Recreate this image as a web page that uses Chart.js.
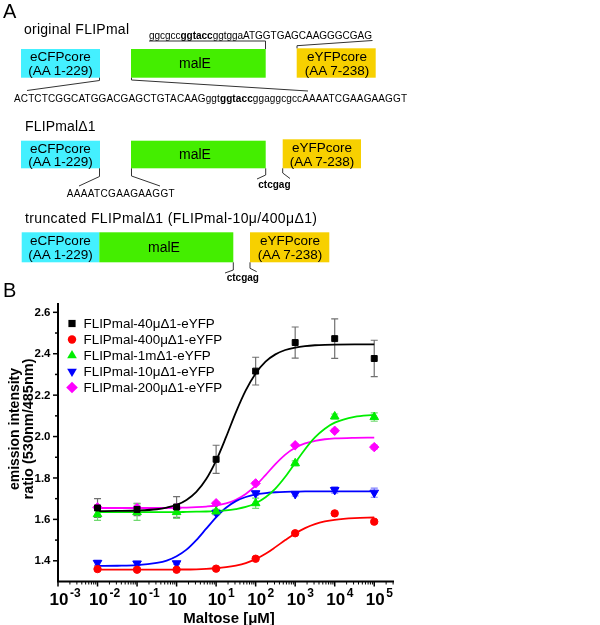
<!DOCTYPE html>
<html><head><meta charset="utf-8">
<script src="https://cdn.jsdelivr.net/npm/chart.js@4.4.0/dist/chart.umd.min.js"></script>
<style>
html,body{margin:0;padding:0;background:#fff;}
#wrap{position:relative;width:600px;height:625px;overflow:hidden;font-family:"Liberation Sans",Arial,sans-serif;}
#chart{position:absolute;left:0;top:280px;}
#schema{position:absolute;left:0;top:0;}
</style></head><body>
<div id="wrap">
<canvas id="chart" width="600" height="345"></canvas>
<svg id="schema" width="600" height="300" xmlns="http://www.w3.org/2000/svg">
<g font-family="Liberation Sans, Arial, sans-serif" fill="#000">
<text x="3" y="18" font-size="20">A</text>
<text x="24" y="34" font-size="14" textLength="105">original FLIPmal</text>
<text x="149" y="38.5" font-size="10" textLength="223">ggcgcc<tspan font-weight="bold">ggtacc</tspan>ggtggaATGGTGAGCAAGGGCGAG</text>
<rect x="21" y="49" width="79" height="28.7" fill="#44F0FF"/>
<text font-size="13.5" text-anchor="middle"><tspan x="60.5" y="61">eCFPcore</tspan><tspan x="60.5" y="74.5">(AA 1-229)</tspan></text>
<rect x="131" y="49" width="134.7" height="28.7" fill="#44EE00"/>
<text x="195" y="67.5" font-size="14" text-anchor="middle">malE</text>
<rect x="296.7" y="48.3" width="79" height="29.4" fill="#F7D000"/>
<text font-size="13.5" text-anchor="middle"><tspan x="337" y="61">eYFPcore</tspan><tspan x="337" y="74.5">(AA 7-238)</tspan></text>
<g fill="none" stroke="#333" stroke-width="1">
<polyline points="149,41 265.5,41 265.5,49"/>
<polyline points="297,48.3 297,45.7 372.5,40.5"/>
<polyline points="99.5,77.7 99.5,80.5 27,90.5"/>
<polyline points="131.5,77.7 131.5,80 308,91"/>
</g>
<text x="14" y="102" font-size="10" textLength="393">ACTCTCGGCATGGACGAGCTGTACAAGggt<tspan font-weight="bold">ggtacc</tspan>ggaggcgccAAAATCGAAGAAGGT</text>

<text x="25" y="131" font-size="14" textLength="70.5">FLIPmalΔ1</text>
<rect x="21" y="140.7" width="79" height="27.6" fill="#44F0FF"/>
<text font-size="13.5" text-anchor="middle"><tspan x="60.5" y="152.5">eCFPcore</tspan><tspan x="60.5" y="166">(AA 1-229)</tspan></text>
<rect x="131" y="140.7" width="134.7" height="27.6" fill="#44EE00"/>
<text x="195" y="159" font-size="14" text-anchor="middle">malE</text>
<rect x="282.7" y="139.3" width="78.3" height="29" fill="#F7D000"/>
<text font-size="13.5" text-anchor="middle"><tspan x="322" y="152">eYFPcore</tspan><tspan x="322" y="165.5">(AA 7-238)</tspan></text>
<g fill="none" stroke="#333" stroke-width="1">
<polyline points="99.5,168.3 99.5,176.5 79,186"/>
<polyline points="131.5,168.3 131.5,176 160,186"/>
<polyline points="265.7,168.3 265.7,175 257,179"/>
<polyline points="282.7,168.3 282.7,173 290,178.5"/>
</g>
<text x="66.7" y="196.5" font-size="10" textLength="108">AAAATCGAAGAAGGT</text>
<text x="258.3" y="187.7" font-size="10" font-weight="bold">ctcgag</text>

<text x="25" y="223" font-size="14" textLength="292">truncated FLIPmalΔ1 (FLIPmal-10μ/400μΔ1)</text>
<rect x="21.7" y="232.3" width="77.6" height="30" fill="#44F0FF"/>
<rect x="99.3" y="232.3" width="134" height="30" fill="#44EE00"/>
<rect x="250" y="232.3" width="79.3" height="30" fill="#F7D000"/>
<text font-size="13.5" text-anchor="middle"><tspan x="60.5" y="245">eCFPcore</tspan><tspan x="60.5" y="258.5">(AA 1-229)</tspan></text>
<text x="164" y="252" font-size="14" text-anchor="middle">malE</text>
<text font-size="13.5" text-anchor="middle"><tspan x="290" y="245">eYFPcore</tspan><tspan x="290" y="258.5">(AA 7-238)</tspan></text>
<g fill="none" stroke="#333" stroke-width="1">
<polyline points="233.3,262.3 233.3,270 225,273"/>
<polyline points="250,262.3 250,268.3 256.7,271.7"/>
</g>
<text x="226.7" y="281" font-size="10" font-weight="bold">ctcgag</text>
<text x="3" y="297" font-size="20">B</text>
</g>
</svg>
</div>
<script>
// ---- data ----
const maltose = [0.01, 0.1, 1, 10, 100, 1000, 10000, 100000];
const ratio40 = [1.655, 1.648, 1.660, 1.890, 2.316, 2.454, 2.473, 2.377];
const err40   = [0.045, 0.030, 0.050, 0.068, 0.067, 0.075, 0.095, 0.088];
const ratio400 = [1.360, 1.357, 1.357, 1.362, 1.410, 1.533, 1.629, 1.589];
const err400   = [0.006, 0.006, 0.005, 0.005, 0.006, 0.006, 0.006, 0.006];
const ratio1m = [1.625, 1.635, 1.635, 1.638, 1.678, 1.871, 2.097, 2.094];
const err1m   = [0.030, 0.040, 0.030, 0.010, 0.025, 0.012, 0.012, 0.020];
const ratio10 = [1.390, 1.387, 1.388, 1.632, 1.726, 1.723, 1.742, 1.729];
const err10   = [0.012, 0.010, 0.006, 0.010, 0.010, 0.010, 0.015, 0.022];
const ratio200 = [1.658, 1.655, 1.655, 1.678, 1.774, 1.958, 2.028, 1.949];
const err200   = [0.012, 0.010, 0.008, 0.006, 0.008, 0.006, 0.008, 0.010];

// fitted curves
const fitMaltose = [0.01, 0.0316, 0.1, 0.316, 0.562, 1, 1.78, 3.16, 5.62, 10, 17.8, 31.6, 56.2, 100, 178, 316, 562, 1000, 1778, 3162, 5623, 10000, 31623, 100000];
const fit40  = [1.640,1.641,1.643,1.649,1.657,1.670,1.694,1.733,1.795,1.884,1.997,2.117,2.223,2.305,2.362,2.397,2.418,2.430,2.437,2.441,2.443,2.444,2.445,2.445];
const fit400 = [1.357,1.357,1.357,1.357,1.357,1.358,1.358,1.359,1.361,1.364,1.369,1.377,1.389,1.408,1.434,1.466,1.500,1.532,1.558,1.577,1.590,1.598,1.606,1.609];
const fit1m  = [1.635,1.635,1.635,1.635,1.635,1.635,1.636,1.637,1.638,1.640,1.643,1.650,1.660,1.678,1.707,1.749,1.806,1.873,1.939,1.996,2.038,2.067,2.095,2.105];
const fit10  = [1.375,1.376,1.379,1.390,1.401,1.422,1.454,1.500,1.555,1.610,1.656,1.688,1.708,1.721,1.727,1.731,1.733,1.734,1.735,1.735,1.735,1.735,1.735,1.735];
const fit200 = [1.655,1.655,1.655,1.655,1.655,1.656,1.657,1.659,1.662,1.667,1.677,1.695,1.723,1.763,1.814,1.867,1.913,1.946,1.967,1.979,1.987,1.991,1.994,1.995];

const seriesNames = ['FLIPmal-40μΔ1-eYFP','FLIPmal-400μΔ1-eYFP','FLIPmal-1mΔ1-eYFP','FLIPmal-10μΔ1-eYFP','FLIPmal-200μΔ1-eYFP'];

const xTickValues = [0.001, 0.01, 0.1, 1, 10, 100, 1000, 10000, 100000];
const xTickBase = ['10','10','10','10','10','10','10','10','10'];
const xTickExp = ['-3','-2','-1','','1','2','3','4','5'];
const yTickValues = [1.4, 1.6, 1.8, 2.0, 2.2, 2.4, 2.6];
const yTickLabels = ['1.4','1.6','1.8','2.0','2.2','2.4','2.6'];
const yMinorValues = [1.5, 1.7, 1.9, 2.1, 2.3, 2.5];

// ---- styling ----
const FONT = '"Liberation Sans", Arial, sans-serif';
const colors = ['#000000','#FF0000','#00EE00','#0000FF','#FF00FF'];
const errColors = ['#707070','#FF9090','#70D870','#8080FF','#E080E0'];
const styles = [
  {pointStyle:'rect', radius:4.2, rotation:0},
  {pointStyle:'circle', radius:3.7, rotation:0},
  {pointStyle:'triangle', radius:5, rotation:0},
  {pointStyle:'triangle', radius:5, rotation:180},
  {pointStyle:'rectRot', radius:4.7, rotation:0}
];
const ratios = [ratio40, ratio400, ratio1m, ratio10, ratio200];
const errs = [err40, err400, err1m, err10, err200];
const fits = [fit40, fit400, fit1m, fit10, fit200];

const datasets = [];
fits.forEach((f, s) => {
  datasets.push({
    label: seriesNames[s] + ' fit',
    data: fitMaltose.map((x, i) => ({x, y: f[i]})),
    showLine: true, borderColor: colors[s], borderWidth: 1.8,
    pointRadius: 0, cubicInterpolationMode: 'monotone', order: 2
  });
});
ratios.forEach((r, s) => {
  datasets.push({
    label: seriesNames[s],
    data: maltose.map((x, i) => ({x, y: r[i]})),
    showLine: false, backgroundColor: colors[s], borderColor: colors[s],
    pointStyle: styles[s].pointStyle, pointRadius: styles[s].radius,
    pointRotation: styles[s].rotation, pointBorderWidth: 1, order: 1
  });
});

function drawMarker(ctx, kind, x, y, r, rot) {
  ctx.beginPath();
  if (kind === 'rect') { ctx.rect(x - r, y - r, 2 * r, 2 * r); }
  else if (kind === 'circle') { ctx.arc(x, y, r, 0, Math.PI * 2); }
  else if (kind === 'triangle') {
    const d = rot ? -1 : 1;
    ctx.moveTo(x, y - d * r);
    ctx.lineTo(x + r * 0.866, y + d * r / 2);
    ctx.lineTo(x - r * 0.866, y + d * r / 2);
    ctx.closePath();
  } else if (kind === 'rectRot') {
    ctx.moveTo(x, y - r); ctx.lineTo(x + r, y); ctx.lineTo(x, y + r); ctx.lineTo(x - r, y); ctx.closePath();
  }
  ctx.fill();
}

const errorBars = {
  id: 'errorBars',
  beforeDatasetsDraw(chart) {
    const {ctx, scales: {x, y}} = chart;
    ctx.save();
    ctx.lineWidth = 1.2;
    ratios.forEach((r, s) => {
      ctx.strokeStyle = errColors[s];
      r.forEach((v, i) => {
        const e = errs[s][i];
        const px = x.getPixelForValue(maltose[i]);
        const pt = y.getPixelForValue(v + e), pb = y.getPixelForValue(v - e);
        ctx.beginPath();
        ctx.moveTo(px, pt); ctx.lineTo(px, pb);
        ctx.moveTo(px - 3.5, pt); ctx.lineTo(px + 3.5, pt);
        ctx.moveTo(px - 3.5, pb); ctx.lineTo(px + 3.5, pb);
        ctx.stroke();
      });
    });
    ctx.restore();
  }
};

const axesDecor = {
  id: 'axesDecor',
  afterDraw(chart) {
    const {ctx, scales: {x, y}, chartArea: a} = chart;
    ctx.save();
    ctx.strokeStyle = '#000'; ctx.fillStyle = '#000';
    // axis lines
    ctx.lineWidth = 2;
    ctx.beginPath();
    ctx.moveTo(a.left, a.top); ctx.lineTo(a.left, a.bottom); ctx.lineTo(a.right, a.bottom);
    ctx.stroke();
    ctx.lineWidth = 1.5;
    // titles (drawn first so tick labels stay on top)
    ctx.font = 'bold 15px ' + FONT; ctx.textAlign = 'center'; ctx.textBaseline = 'alphabetic';
    ctx.fillText('Maltose [μM]', 229, 342.5);
    ctx.save();
    ctx.translate(18.5, 149); ctx.rotate(-Math.PI / 2);
    ctx.textBaseline = 'alphabetic';
    ctx.font = 'bold 14px ' + FONT; ctx.fillText('emission intensity', 0, 0);
    ctx.restore();
    ctx.save();
    ctx.translate(33, 149); ctx.rotate(-Math.PI / 2);
    ctx.textBaseline = 'alphabetic';
    ctx.font = 'bold 14.5px ' + FONT; ctx.fillText('ratio (530nm/485nm)', 0, 0);
    ctx.restore();
    // y ticks
    ctx.font = 'bold 11.5px ' + FONT; ctx.textAlign = 'right'; ctx.textBaseline = 'middle';
    yTickValues.forEach((v, i) => {
      const py = y.getPixelForValue(v);
      ctx.beginPath(); ctx.moveTo(a.left - 5, py); ctx.lineTo(a.left, py); ctx.stroke();
      ctx.fillText(yTickLabels[i], 50.5, py + 0.5);
    });
    yMinorValues.forEach(v => {
      const py = y.getPixelForValue(v);
      ctx.beginPath(); ctx.moveTo(a.left - 3, py); ctx.lineTo(a.left, py); ctx.stroke();
    });
    // x ticks
    xTickValues.forEach((v, i) => {
      const px = x.getPixelForValue(v);
      ctx.lineWidth = 1.5;
      ctx.beginPath(); ctx.moveTo(px, a.bottom); ctx.lineTo(px, a.bottom + 5); ctx.stroke();
      ctx.font = 'bold 17px ' + FONT; ctx.textAlign = 'center'; ctx.textBaseline = 'alphabetic';
      ctx.fillText(xTickBase[i], px + 1, 325);
      const w = ctx.measureText(xTickBase[i]).width;
      if (xTickExp[i]) {
        ctx.font = 'bold 12px ' + FONT; ctx.textAlign = 'left';
        ctx.fillText(xTickExp[i], px + 1 + w / 2 + 1.5, 317);
      }
    });
    const xmax = x.max;
    for (let k = 0; k < xTickValues.length; k++) {
      for (let m = 2; m <= 9; m++) {
        const v = xTickValues[k] * m;
        if (v > xmax) break;
        const px = x.getPixelForValue(v);
        ctx.lineWidth = 1;
        ctx.beginPath(); ctx.moveTo(px, a.bottom); ctx.lineTo(px, a.bottom + 3); ctx.stroke();
      }
    }
    // legend
    ctx.font = '13.4px ' + FONT; ctx.textAlign = 'left'; ctx.textBaseline = 'middle';
    const lr = [3.6, 4.2, 5.6, 5.6, 5.8];
    seriesNames.forEach((n, s) => {
      const ly = 43.5 + 16 * s;
      ctx.fillStyle = colors[s];
      drawMarker(ctx, styles[s].pointStyle, 72, ly, lr[s], styles[s].rotation);
      ctx.fillStyle = '#000';
      ctx.fillText(n, 83.5, ly + 0.5);
    });
    ctx.restore();
  }
};

new Chart(document.getElementById('chart'), {
  type: 'scatter',
  data: { datasets },
  options: {
    responsive: false, devicePixelRatio: 1, animation: false,
    layout: { padding: { left: 58, right: 206, top: 23, bottom: 43.5 } },
    plugins: { legend: { display: false }, tooltip: { enabled: false } },
    scales: {
      x: { type: 'logarithmic', display: false, min: 0.001, max: 316228 },
      y: { type: 'linear', display: false, min: 1.3, max: 2.645 }
    }
  },
  plugins: [errorBars, axesDecor]
});
</script>
</body></html>
